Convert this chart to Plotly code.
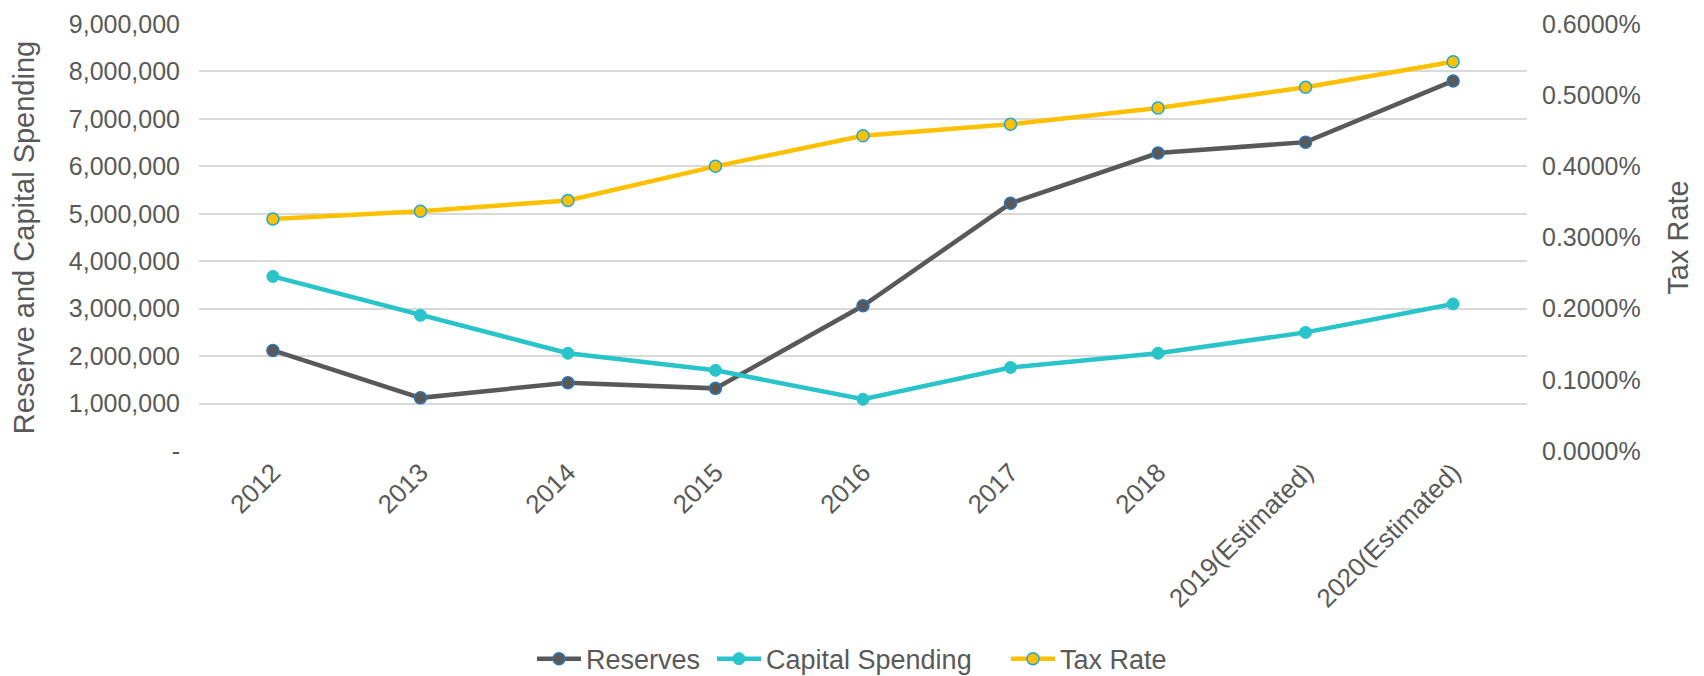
import plotly.graph_objects as go

years = ["2012", "2013", "2014", "2015", "2016", "2017", "2018",
         "2019(Estimated)", "2020(Estimated)"]
reserves = [2120000, 1120000, 1440000, 1320000, 3060000, 5220000, 6280000, 6510000, 7800000]
capital_spending = [3680000, 2860000, 2060000, 1700000, 1090000, 1760000, 2060000, 2500000, 3100000]
tax_rate = [0.00326, 0.00337, 0.00352, 0.00400, 0.00443, 0.00459, 0.00482, 0.00511, 0.00547]

left_ticks = [0, 1000000, 2000000, 3000000, 4000000, 5000000, 6000000, 7000000, 8000000, 9000000]
left_tick_text = ["-", "1,000,000", "2,000,000", "3,000,000", "4,000,000", "5,000,000",
                  "6,000,000", "7,000,000", "8,000,000", "9,000,000"]

TXT = "#595959"
FONT = "Liberation Sans, Arial, sans-serif"
W, H = 1704, 676

fig = go.Figure()
fig.add_trace(go.Scatter(
    x=years, y=reserves, name="Reserves", mode="lines+markers", legend="legend",
    line=dict(color="#595959", width=4.5),
    marker=dict(size=12, color="#595959", line=dict(color="#2E75B6", width=1.5)),
))
fig.add_trace(go.Scatter(
    x=years, y=capital_spending, name="Capital Spending", mode="lines+markers", legend="legend2",
    line=dict(color="#29C4C9", width=4.5),
    marker=dict(size=12, color="#29C4C9", line=dict(color="#29C4C9", width=1)),
))
fig.add_trace(go.Scatter(
    x=years, y=tax_rate, name="Tax Rate", mode="lines+markers", yaxis="y2", legend="legend3",
    line=dict(color="#FFC000", width=4.5),
    marker=dict(size=12, color="#FFC000", line=dict(color="#1FA5E0", width=1.5)),
))

def leg(xpix):
    return dict(orientation="h", xref="container", yref="container",
                x=xpix / W, xanchor="left", y=0.025, yanchor="middle",
                font=dict(size=27, color=TXT), itemwidth=44, bgcolor="rgba(0,0,0,0)")

fig.update_layout(
    width=W, height=H,
    margin=dict(l=199, r=177, t=24, b=225, autoexpand=False),
    paper_bgcolor="white", plot_bgcolor="white",
    font=dict(family=FONT, size=26, color=TXT),
    showlegend=True,
    legend=leg(532), legend2=leg(712), legend3=leg(1006),
    xaxis=dict(type="category", tickangle=-45, showgrid=False, showline=False,
               ticks="", tickfont=dict(size=26, color=TXT), automargin=False),
    yaxis=dict(range=[0, 9000000], tickvals=left_ticks, ticktext=left_tick_text,
               showgrid=True, gridcolor="#D9D9D9", gridwidth=1.5, zeroline=False,
               showline=False, ticks="", ticklabelstandoff=18,
               tickfont=dict(size=25, color=TXT), automargin=False,
               title=dict(text="Reserve and Capital Spending",
                          font=dict(size=29, color=TXT), standoff=25)),
    yaxis2=dict(range=[0, 0.006], dtick=0.001, tickformat=".4%", overlaying="y",
                side="right", showgrid=False, zeroline=False, showline=False,
                ticks="", ticklabelstandoff=14, tickfont=dict(size=25, color=TXT),
                automargin=False,
                title=dict(text="Tax Rate", font=dict(size=29, color=TXT), standoff=27)),
)

fig.write_html("out.html")
